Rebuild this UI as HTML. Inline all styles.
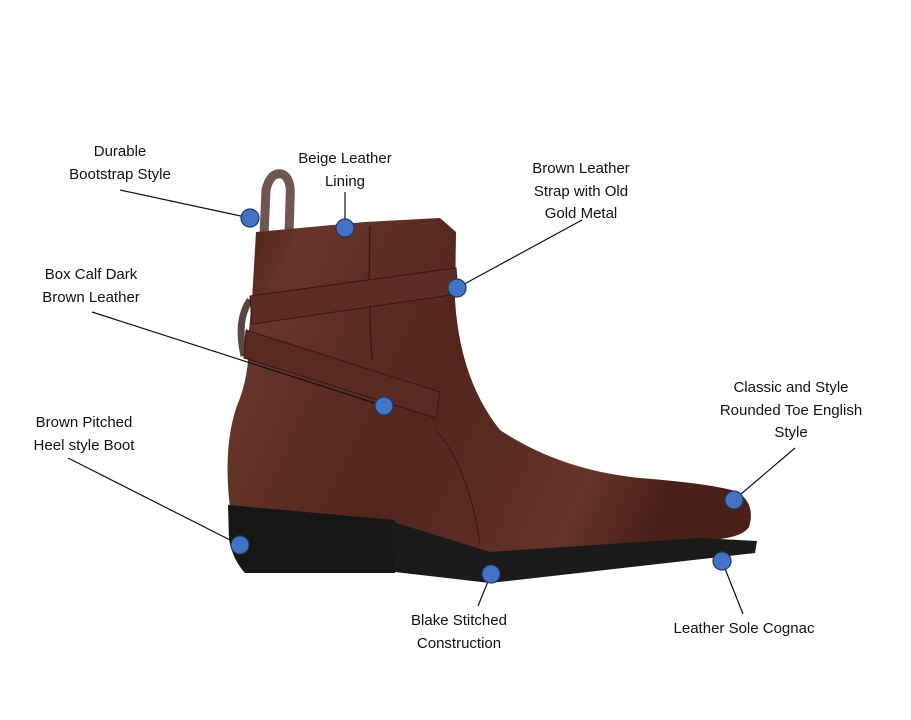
<!DOCTYPE html>
<html><head><meta charset="utf-8"><style>
html,body{margin:0;padding:0;background:#fff;}
svg{display:block}
text{font-family:"Liberation Sans",sans-serif;font-size:15px;fill:#111;text-anchor:middle}
</style></head><body>
<svg width="911" height="720" viewBox="0 0 911 720" xmlns="http://www.w3.org/2000/svg">
<defs>
<linearGradient id="lg" x1="0" y1="0" x2="1" y2="0.3">
<stop offset="0" stop-color="#441c15"/><stop offset="0.15" stop-color="#67352b"/><stop offset="0.5" stop-color="#52251d"/><stop offset="0.85" stop-color="#653329"/><stop offset="1" stop-color="#4a2019"/>
</linearGradient>
</defs>
<path d="M264,236 L266,190 Q270,172 282,174 Q292,178 290,200 L289,236" fill="none" stroke="#6e5752" stroke-width="9"/>
<path d="M250,300 Q236,320 244,356" fill="none" stroke="#5a4540" stroke-width="7"/>
<path d="M256,232 L300,228 L365,222 L440,218 L456,232 L455,300 Q460,380 500,430 Q560,470 640,478 Q715,484 738,492 Q756,505 749,527 Q740,540 700,540 L490,553 Q440,538 390,522 L230,508 Q222,440 240,398 Q250,370 248,340 L252,300 Z" fill="url(#lg)"/>
<path d="M370,226 Q368,300 372,360" fill="none" stroke="#3e1912" stroke-width="1.5"/>
<path d="M436,430 Q470,470 480,545" fill="none" stroke="#3e1912" stroke-width="1.2"/>
<path d="M250,296 L456,268 L458,294 L252,324 Z" fill="#5e2e26" stroke="#3a1710" stroke-width="1"/>
<path d="M246,330 L440,392 L436,418 L244,358 Z" fill="#582a22" stroke="#3a1710" stroke-width="1"/>
<path d="M228,505 L395,520 Q398,545 395,560 L395,573 L245,573 Q233,560 229,540 Z" fill="#161616"/>
<path d="M390,521 L490,552 L700,538 L757,541 L755,553 L490,583 L395,572 Z" fill="#1a1a1a"/>
<g stroke="#111" stroke-width="1.2" fill="none">
<line x1="120" y1="190" x2="250" y2="218"/>
<line x1="345" y1="192" x2="345" y2="228"/>
<line x1="582" y1="220" x2="457" y2="288"/>
<line x1="92" y1="312" x2="384" y2="406"/>
<line x1="68" y1="458" x2="240" y2="545"/>
<line x1="491" y1="574" x2="478" y2="606"/>
<line x1="734" y1="500" x2="795" y2="448"/>
<line x1="722" y1="561" x2="743" y2="614"/>
</g>
<g fill="#4472c4" stroke="#1f3864" stroke-width="1.2">
<circle cx="250" cy="218" r="9"/><circle cx="345" cy="228" r="9"/><circle cx="457" cy="288" r="9"/>
<circle cx="384" cy="406" r="9"/><circle cx="240" cy="545" r="9"/><circle cx="491" cy="574" r="9"/>
<circle cx="734" cy="500" r="9"/><circle cx="722" cy="561" r="9"/>
</g>
<text x="120" y="156">Durable</text><text x="120" y="179">Bootstrap Style</text>
<text x="345" y="163">Beige Leather</text><text x="345" y="186">Lining</text>
<text x="581" y="173">Brown Leather</text><text x="581" y="196">Strap with Old</text><text x="581" y="218">Gold Metal</text>
<text x="91" y="279">Box Calf Dark</text><text x="91" y="302">Brown Leather</text>
<text x="84" y="427">Brown Pitched</text><text x="84" y="450">Heel style Boot</text>
<text x="791" y="392">Classic and Style</text><text x="791" y="415">Rounded Toe English</text><text x="791" y="437">Style</text>
<text x="459" y="625">Blake Stitched</text><text x="459" y="648">Construction</text>
<text x="744" y="633">Leather Sole Cognac</text>
</svg>
</body></html>
